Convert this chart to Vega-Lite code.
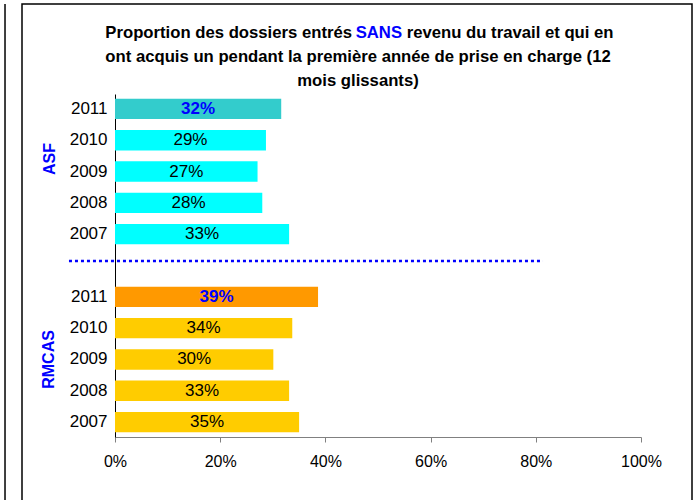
{
  "$schema": "https://vega.github.io/schema/vega-lite/v6.json",
  "width": 670,
  "height": 499,
  "autosize": "none",
  "padding": {"left": 22, "top": 4, "right": 5, "bottom": -3},
  "background": "#ffffff",
  "config": {
    "font": "Liberation Sans",
    "view": {"stroke": "#000000", "strokeWidth": 1.5}
  },
  "data": {
    "values": [
      {"cat": "ASF 2011", "groupe": "ASF", "annee": "2011", "serie": "ASF 2011", "valeur": 0.316},
      {"cat": "ASF 2010", "groupe": "ASF", "annee": "2010", "serie": "ASF", "valeur": 0.287},
      {"cat": "ASF 2009", "groupe": "ASF", "annee": "2009", "serie": "ASF", "valeur": 0.271},
      {"cat": "ASF 2008", "groupe": "ASF", "annee": "2008", "serie": "ASF", "valeur": 0.28},
      {"cat": "ASF 2007", "groupe": "ASF", "annee": "2007", "serie": "ASF", "valeur": 0.331},
      {"cat": "RMCAS 2011", "groupe": "RMCAS", "annee": "2011", "serie": "RMCAS 2011", "valeur": 0.386},
      {"cat": "RMCAS 2010", "groupe": "RMCAS", "annee": "2010", "serie": "RMCAS", "valeur": 0.337},
      {"cat": "RMCAS 2009", "groupe": "RMCAS", "annee": "2009", "serie": "RMCAS", "valeur": 0.301},
      {"cat": "RMCAS 2008", "groupe": "RMCAS", "annee": "2008", "serie": "RMCAS", "valeur": 0.331},
      {"cat": "RMCAS 2007", "groupe": "RMCAS", "annee": "2007", "serie": "RMCAS", "valeur": 0.35}
    ]
  },
  "layer": [
    {
      "layer": [
        {
          "mark": {"type": "bar"},
          "encoding": {
            "y": {
              "field": "cat",
              "type": "nominal",
              "sort": null,
              "scale": {
                "type": "band",
                "domain": ["ASF 2011", "ASF 2010", "ASF 2009", "ASF 2008", "ASF 2007", "-", "RMCAS 2011", "RMCAS 2010", "RMCAS 2009", "RMCAS 2008", "RMCAS 2007"],
                "range": [90, 433],
                "paddingInner": 0.35,
                "paddingOuter": 0.15
              },
              "axis": {
                "title": null,
                "orient": "left",
                "offset": -93,
                "domainColor": "#000000",
                "domainWidth": 1,
                "ticks": false,
                "labelPadding": 8,
                "labelFontSize": 17,
                "labelColor": "#000000",
                "labelExpr": "datum.label == '-' ? '' : substring(datum.label, indexof(datum.label, ' ') + 1)"
              }
            },
            "x": {
              "field": "valeur",
              "type": "quantitative",
              "scale": {"domain": [0, 1], "range": [93, 619], "nice": false},
              "axis": {
                "title": null,
                "orient": "bottom",
                "offset": -66,
                "values": [0, 0.2, 0.4, 0.6, 0.8, 1],
                "format": ".0%",
                "grid": false,
                "domainColor": "#808080",
                "domainWidth": 1,
                "tickColor": "#808080",
                "tickSize": 5,
                "labelFontSize": 16,
                "labelPadding": 11,
                "labelColor": "#000000",
                "labelFlush": false,
                "labelOverlap": false
              }
            },
            "color": {
              "field": "serie",
              "type": "nominal",
              "scale": {
                "domain": ["ASF 2011", "ASF", "RMCAS 2011", "RMCAS"],
                "range": ["#33CCCC", "#00FFFF", "#FF9900", "#FFCC00"]
              },
              "legend": null
            }
          }
        },
        {
          "data": {"values": [{}]},
          "mark": {"type": "rule", "color": "#0000FF", "strokeWidth": 2.5, "strokeDash": [3, 3], "strokeCap": "butt", "yOffset": -4.5},
          "encoding": {
            "x": {"datum": -0.0875, "type": "quantitative"},
            "x2": {"datum": 0.8137},
            "y": {"datum": "-", "type": "nominal"}
          }
        },
        {
          "data": {"values": [{}]},
          "mark": {"type": "rule", "color": "#000000", "strokeWidth": 1.5},
          "encoding": {
            "x": {"datum": -0.2091, "type": "quantitative"}
          }
        },
        {
          "data": {"values": [{}]},
          "mark": {"type": "text", "align": "right", "baseline": "middle", "fontSize": 16.7, "fontWeight": "bold", "color": "#000000", "yOffset": -76},
          "encoding": {
            "x": {"datum": 0.4506, "type": "quantitative"},
            "y": {"datum": "ASF 2011", "type": "nominal"},
            "text": {"value": "Proportion des dossiers entrés"}
          }
        },
        {
          "data": {"values": [{}]},
          "mark": {"type": "text", "align": "center", "baseline": "middle", "fontSize": 16.7, "fontWeight": "bold", "color": "#0000FF", "yOffset": -76},
          "encoding": {
            "x": {"datum": 0.5016, "type": "quantitative"},
            "y": {"datum": "ASF 2011", "type": "nominal"},
            "text": {"value": "SANS"}
          }
        },
        {
          "data": {"values": [{}]},
          "mark": {"type": "text", "align": "left", "baseline": "middle", "fontSize": 16.7, "fontWeight": "bold", "color": "#000000", "yOffset": -76},
          "encoding": {
            "x": {"datum": 0.5546, "type": "quantitative"},
            "y": {"datum": "ASF 2011", "type": "nominal"},
            "text": {"value": "revenu du travail et qui en"}
          }
        },
        {
          "data": {"values": [{}]},
          "mark": {"type": "text", "align": "center", "baseline": "middle", "fontSize": 16.7, "fontWeight": "bold", "color": "#000000", "yOffset": -51.5},
          "encoding": {
            "x": {"datum": 0.462, "type": "quantitative"},
            "y": {"datum": "ASF 2011", "type": "nominal"},
            "text": {"value": "ont acquis un pendant la première année de prise en charge (12"}
          }
        },
        {
          "data": {"values": [{}]},
          "mark": {"type": "text", "align": "center", "baseline": "middle", "fontSize": 16.7, "fontWeight": "bold", "color": "#000000", "yOffset": -28},
          "encoding": {
            "x": {"datum": 0.462, "type": "quantitative"},
            "y": {"datum": "ASF 2011", "type": "nominal"},
            "text": {"value": "mois glissants)"}
          }
        },
        {
          "data": {"values": [{}]},
          "mark": {"type": "text", "align": "center", "baseline": "middle", "angle": 270, "fontSize": 16, "fontWeight": "bold", "color": "#0000FF", "yOffset": -12.5},
          "encoding": {
            "x": {"datum": -0.1236, "type": "quantitative"},
            "y": {"datum": "ASF 2009", "type": "nominal"},
            "text": {"value": "ASF"}
          }
        },
        {
          "data": {"values": [{}]},
          "mark": {"type": "text", "align": "center", "baseline": "middle", "angle": 270, "fontSize": 16, "fontWeight": "bold", "color": "#0000FF"},
          "encoding": {
            "x": {"datum": -0.125, "type": "quantitative"},
            "y": {"datum": "RMCAS 2009", "type": "nominal"},
            "text": {"value": "RMCAS"}
          }
        }
      ]
    },
    {
      "layer": [
        {
          "transform": [{"filter": "datum.annee == '2011'"}],
          "mark": {"type": "text", "align": "center", "baseline": "middle", "fontSize": 17, "fontWeight": "bold", "color": "#0000FF"},
          "encoding": {
            "y": {"field": "cat", "type": "nominal"},
            "x": {"field": "valeur", "type": "quantitative", "scale": {"domain": [0, 1], "range": [93, 356], "nice": false}, "axis": null},
            "text": {"field": "valeur", "type": "quantitative", "format": ".0%"}
          }
        },
        {
          "transform": [{"filter": "datum.annee != '2011'"}],
          "mark": {"type": "text", "align": "center", "baseline": "middle", "fontSize": 17, "color": "#000000"},
          "encoding": {
            "y": {"field": "cat", "type": "nominal"},
            "x": {"field": "valeur", "type": "quantitative", "scale": {"domain": [0, 1], "range": [93, 356], "nice": false}, "axis": null},
            "text": {"field": "valeur", "type": "quantitative", "format": ".0%"}
          }
        }
      ]
    }
  ],
  "resolve": {"scale": {"x": "independent"}, "axis": {"x": "independent"}}
}
